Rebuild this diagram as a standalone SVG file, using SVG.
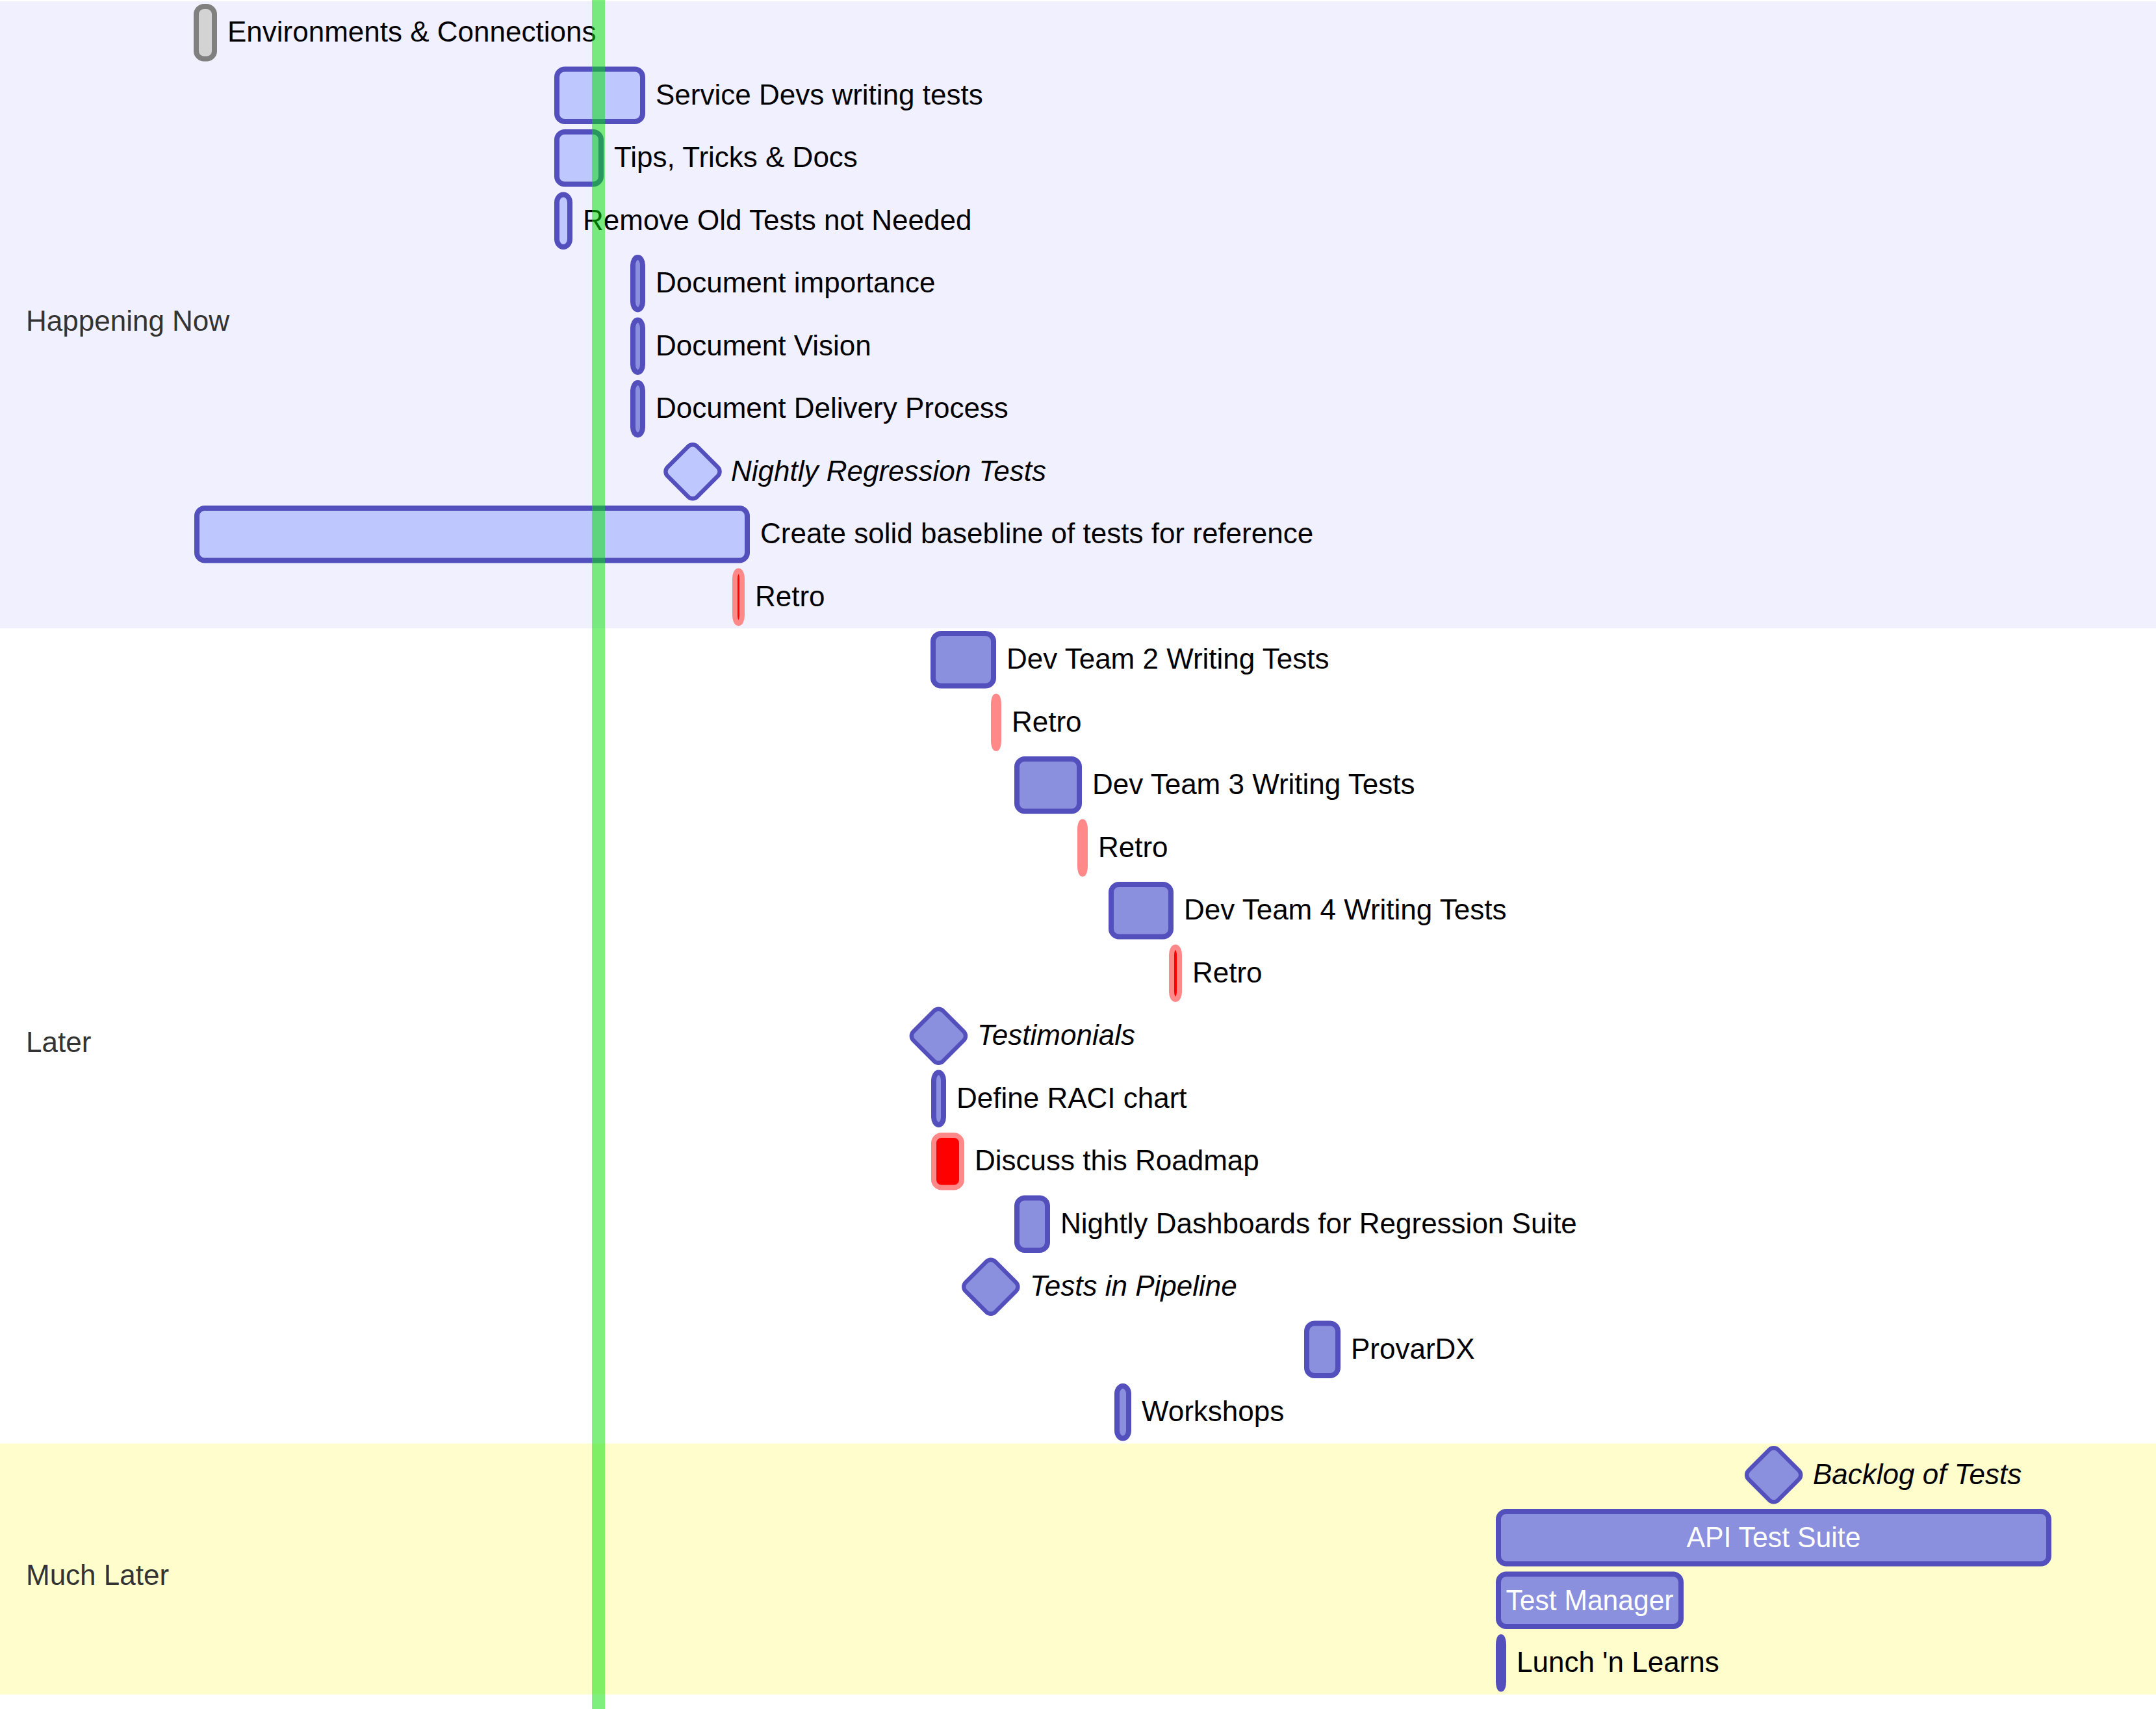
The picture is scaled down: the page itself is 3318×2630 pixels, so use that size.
<svg xmlns="http://www.w3.org/2000/svg" width="3318" height="2630" viewBox="0 0 3318 2630">
<style>
.bg{fill:#ffffff}
.sec0{fill:#f0f0ff}
.sec2{fill:#fffdcc}
.bar{stroke-width:8}
.done{fill:#d3d3d3;stroke:#808080}
.active{fill:#bfc7ff;stroke:#534fbc}
.task{fill:#8a90dd;stroke:#534fbc}
.crit{fill:#ff0000;stroke:#ff8888}
.ms{stroke-width:6.4}
text{font-family:"Liberation Sans",Arial,sans-serif;font-size:44px}
.lbl{fill:#000000}
.it{font-style:italic}
.in{fill:#ffffff;text-anchor:middle}
.st{fill:#333333}
.today{stroke:#00e100;stroke-opacity:0.5;stroke-width:20}
</style>
<rect class="bg" x="0" y="0" width="3318" height="2630"/>
<g id="sections">
<rect class="sec0" x="0" y="2" width="3318" height="965"/>
<rect class="sec2" x="0" y="2221.5" width="3318" height="386"/>
<text class="st" x="40" y="509">Happening Now</text>
<text class="st" x="40" y="1619">Later</text>
<text class="st" x="40" y="2439">Much Later</text>
</g>
<g id="task-environments">
<rect class="bar done" x="302" y="10" width="28" height="80.5" rx="12" ry="12"/>
<text class="lbl" x="350" y="64.25">Environments &amp; Connections</text>
</g>
<g id="task-service-devs">
<rect class="bar active" x="857" y="106.5" width="132" height="80.5" rx="12" ry="12"/>
<text class="lbl" x="1009" y="160.75">Service Devs writing tests</text>
</g>
<g id="task-tips">
<rect class="bar active" x="857" y="203" width="68" height="80.5" rx="12" ry="12"/>
<text class="lbl" x="945" y="257.25">Tips, Tricks &amp; Docs</text>
</g>
<g id="task-remove-old">
<rect class="bar active" x="857" y="299.5" width="20" height="80.5" rx="12" ry="12"/>
<text class="lbl" x="897" y="353.75">Remove Old Tests not Needed</text>
</g>
<g id="task-doc-importance">
<rect class="bar task" x="974" y="396" width="15" height="80.5" rx="12" ry="12"/>
<text class="lbl" x="1009" y="450.25">Document importance</text>
</g>
<g id="task-doc-vision">
<rect class="bar task" x="974" y="492.5" width="15" height="80.5" rx="12" ry="12"/>
<text class="lbl" x="1009" y="546.75">Document Vision</text>
</g>
<g id="task-doc-delivery">
<rect class="bar task" x="974" y="589" width="15" height="80.5" rx="12" ry="12"/>
<text class="lbl" x="1009" y="643.25">Document Delivery Process</text>
</g>
<g id="milestone-nightly-regression">
<rect class="ms active" x="1033.8" y="693.55" width="64.4" height="64.4" rx="9.6" ry="9.6" transform="rotate(45 1066 725.75)"/>
<text class="lbl it" x="1125" y="739.75">Nightly Regression Tests</text>
</g>
<g id="task-baseline">
<rect class="bar active" x="303" y="782" width="847" height="80.5" rx="12" ry="12"/>
<text class="lbl" x="1170" y="836.25">Create solid basebline of tests for reference</text>
</g>
<g id="task-retro-1">
<rect class="bar crit" x="1131" y="878.5" width="11" height="80.5" rx="12" ry="12"/>
<text class="lbl" x="1162" y="932.75">Retro</text>
</g>
<g id="task-dev-team-2">
<rect class="bar task" x="1436" y="975" width="93" height="80.5" rx="12" ry="12"/>
<text class="lbl" x="1549" y="1029.25">Dev Team 2 Writing Tests</text>
</g>
<g id="task-retro-2">
<rect class="bar crit" x="1529" y="1071.5" width="8" height="80.5" rx="12" ry="12"/>
<text class="lbl" x="1557" y="1125.75">Retro</text>
</g>
<g id="task-dev-team-3">
<rect class="bar task" x="1565" y="1168" width="96" height="80.5" rx="12" ry="12"/>
<text class="lbl" x="1681" y="1222.25">Dev Team 3 Writing Tests</text>
</g>
<g id="task-retro-3">
<rect class="bar crit" x="1662" y="1264.5" width="8" height="80.5" rx="12" ry="12"/>
<text class="lbl" x="1690" y="1318.75">Retro</text>
</g>
<g id="task-dev-team-4">
<rect class="bar task" x="1710" y="1361" width="92" height="80.5" rx="12" ry="12"/>
<text class="lbl" x="1822" y="1415.25">Dev Team 4 Writing Tests</text>
</g>
<g id="task-retro-4">
<rect class="bar crit" x="1803" y="1457.5" width="12" height="80.5" rx="12" ry="12"/>
<text class="lbl" x="1835" y="1511.75">Retro</text>
</g>
<g id="milestone-testimonials">
<rect class="ms task" x="1412.2" y="1562.05" width="64.4" height="64.4" rx="9.6" ry="9.6" transform="rotate(45 1444.4 1594.25)"/>
<text class="lbl it" x="1504" y="1608.25">Testimonials</text>
</g>
<g id="task-raci">
<rect class="bar task" x="1437" y="1650.5" width="15" height="80.5" rx="12" ry="12"/>
<text class="lbl" x="1472" y="1704.75">Define RACI chart</text>
</g>
<g id="task-discuss-roadmap">
<rect class="bar crit" x="1437" y="1747" width="43" height="80.5" rx="12" ry="12"/>
<text class="lbl" x="1500" y="1801.25">Discuss this Roadmap</text>
</g>
<g id="task-nightly-dashboards">
<rect class="bar task" x="1565" y="1843.5" width="47" height="80.5" rx="12" ry="12"/>
<text class="lbl" x="1632" y="1897.75">Nightly Dashboards for Regression Suite</text>
</g>
<g id="milestone-tests-in-pipeline">
<rect class="ms task" x="1492.6" y="1948.05" width="64.4" height="64.4" rx="9.6" ry="9.6" transform="rotate(45 1524.8 1980.25)"/>
<text class="lbl it" x="1585" y="1994.25">Tests in Pipeline</text>
</g>
<g id="task-provardx">
<rect class="bar task" x="2011" y="2036.5" width="48" height="80.5" rx="12" ry="12"/>
<text class="lbl" x="2079" y="2090.75">ProvarDX</text>
</g>
<g id="task-workshops">
<rect class="bar task" x="1719" y="2133" width="18" height="80.5" rx="12" ry="12"/>
<text class="lbl" x="1757" y="2187.25">Workshops</text>
</g>
<g id="milestone-backlog">
<rect class="ms task" x="2697.5" y="2237.55" width="64.4" height="64.4" rx="9.6" ry="9.6" transform="rotate(45 2729.7 2269.75)"/>
<text class="lbl it" x="2790" y="2283.75">Backlog of Tests</text>
</g>
<g id="task-api-test-suite">
<rect class="bar task" x="2306" y="2326" width="847" height="80.5" rx="12" ry="12"/>
<text class="in" x="2729.5" y="2381" textLength="268" lengthAdjust="spacingAndGlyphs">API Test Suite</text>
</g>
<g id="task-test-manager">
<rect class="bar task" x="2306" y="2422.5" width="281" height="80.5" rx="12" ry="12"/>
<text class="in" x="2446.5" y="2477.5" textLength="258" lengthAdjust="spacingAndGlyphs">Test Manager</text>
</g>
<g id="task-lunch-learns">
<rect class="bar task" x="2306" y="2519" width="8" height="80.5" rx="12" ry="12"/>
<text class="lbl" x="2334" y="2573.25">Lunch 'n Learns</text>
</g>
<g id="connectors">
<line class="today" x1="921" y1="0" x2="921" y2="2630"/>
</g>
</svg>
